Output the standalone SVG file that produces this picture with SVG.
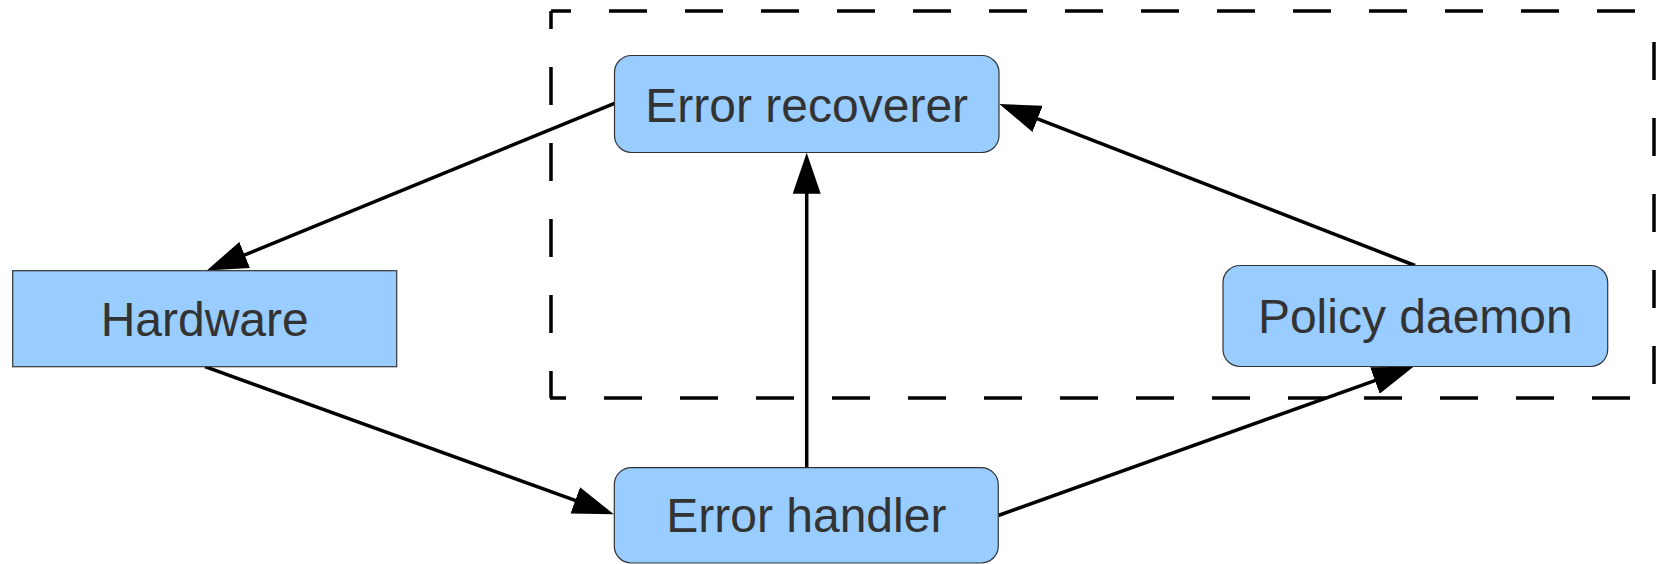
<svg xmlns="http://www.w3.org/2000/svg" width="1656" height="564" viewBox="0 0 1656 564">
  <style>
    .box { fill: #99ccff; stroke: #333333; stroke-width: 1.2; }
    .label { font-family: "Liberation Sans", Arial, sans-serif; font-size: 48px; fill: #333333; text-anchor: middle; }
    .edge { fill: none; stroke: #000000; stroke-width: 3.5; marker-end: url(#arrow); }
    .frame { stroke: #000000; stroke-width: 3.5; stroke-dasharray: 38 38; fill: none; }
  </style>
  <defs>
    <marker id="arrow" markerUnits="userSpaceOnUse" markerWidth="42" markerHeight="28" refX="11" refY="14" orient="auto">
      <path d="M0,0 L41,14 L0,28 Z" fill="#000000"/>
    </marker>
  </defs>

  <rect width="1656" height="564" fill="#ffffff"/>

  <!-- dashed boundary around the recovery side -->
  <g id="boundary">
    <line class="frame" x1="551" y1="11" x2="1656" y2="11" stroke-dashoffset="18"/>
    <line class="frame" x1="551" y1="11" x2="551" y2="398" stroke-dashoffset="20"/>
    <line class="frame" x1="550" y1="398" x2="1656" y2="398" stroke-dashoffset="22"/>
    <line class="frame" x1="1654" y1="42" x2="1654" y2="398"/>
  </g>

  <g id="connectors">
    <!-- Error recoverer -> Hardware -->
    <path class="edge" d="M614.5,103.3 L234.5,259.1"/>
    <!-- Hardware -> Error handler -->
    <path class="edge" d="M205,366.7 L585.6,504.1"/>
    <!-- Error handler -> Error recoverer -->
    <path class="edge" d="M806.7,467.7 L806.7,182.7"/>
    <!-- Policy daemon -> Error recoverer -->
    <path class="edge" d="M1415,265.5 L1027.3,114.9"/>
    <!-- Error handler -> Policy daemon -->
    <path class="edge" d="M998.3,515.5 L1385.3,376.8"/>
  </g>

  <g id="error-recoverer">
    <rect class="box" x="614.5" y="55.5" width="384.5" height="97" rx="17" ry="17"/>
    <text class="label" x="806.7" y="121.5">Error recoverer</text>
  </g>

  <g id="hardware">
    <rect class="box" x="12.7" y="270.7" width="384" height="96"/>
    <text class="label" x="204.7" y="336">Hardware</text>
  </g>

  <g id="policy-daemon">
    <rect class="box" x="1223" y="265.5" width="384.7" height="101" rx="17" ry="17"/>
    <text class="label" x="1415.3" y="333">Policy daemon</text>
  </g>

  <g id="error-handler">
    <rect class="box" x="614.3" y="467.7" width="384" height="95.3" rx="17" ry="17"/>
    <text class="label" x="806.3" y="532">Error handler</text>
  </g>
</svg>
